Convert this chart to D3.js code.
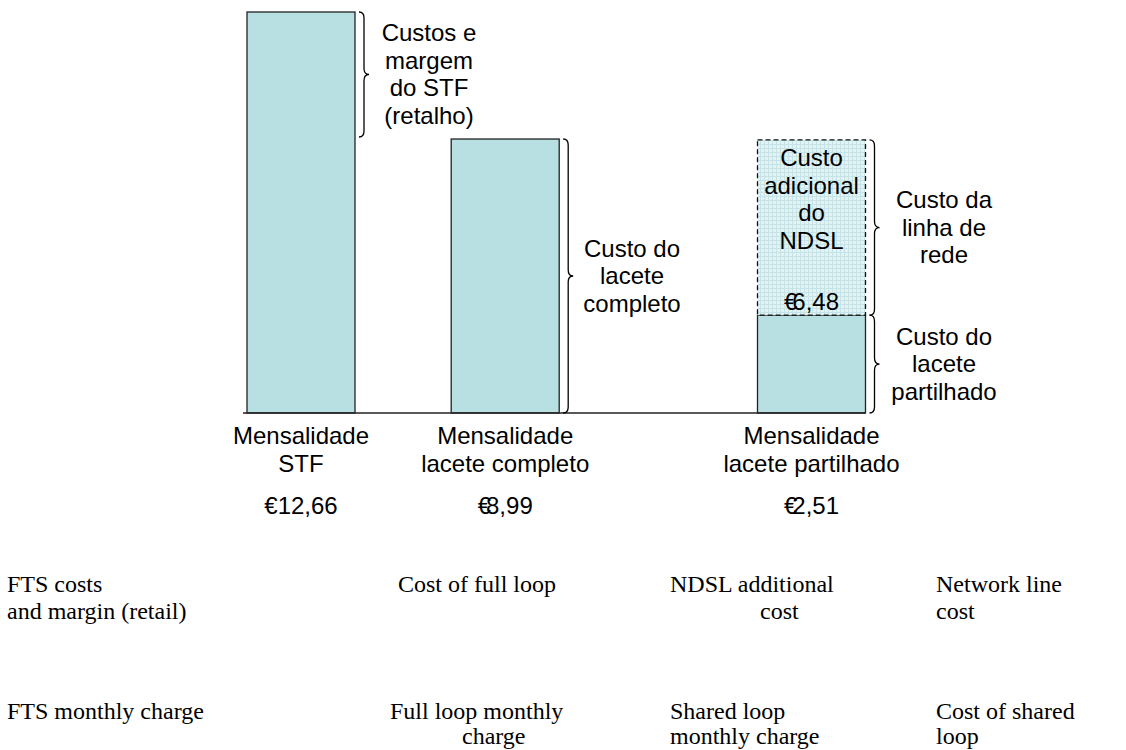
<!DOCTYPE html>
<html>
<head>
<meta charset="utf-8">
<script src="https://cdn.jsdelivr.net/npm/d3@7"></script>
<style>
    body { margin: 0; background: #fff; }
    .pt { font-family: "Liberation Sans", Arial, sans-serif; font-size: 24px; fill: #000; }
    .en { font-family: "Liberation Serif", "Times New Roman", serif; font-size: 24px; fill: #000; }
</style>
</head>
<body>
<script>
//bar labels under the axis, one entry per bar
var categoryLines = [["Mensalidade", "STF"], ["Mensalidade", "lacete completo"], ["Mensalidade", "lacete partilhado"]];
var monthlyCharges = ["€12,66", "€8,99", "€2,51"];

//heights as drawn in the picture (the chart is schematic, not to scale)
var drawnHeights = [12.66, 8.65, 3.09];
var ndslHeight = 5.53;
var ndslCharge = "€6,48";
var ndslLines = ["Custo", "adicional", "do", "NDSL"];

//brace notes: which bar each brace sits on, and its text
var braceBars = [0, 1, 2, 2];
var braceLines = [
    ["Custos e", "margem", "do STF", "(retalho)"],
    ["Custo do", "lacete", "completo"],
    ["Custo da", "linha de", "rede"],
    ["Custo do", "lacete", "partilhado"]
];

//english glosses under the chart
var glossRow1 = [["FTS costs", "and margin (retail)"], ["Cost of full loop"], ["NDSL additional", "cost"], ["Network line", "cost"]];
var glossRow2 = [["FTS monthly charge"], ["Full loop monthly", "charge"], ["Shared loop", "monthly charge"], ["Cost of shared", "loop"]];

window.onload = setChart;

function setChart(){
    var width = 1126,
        height = 750,
        baseY = 413,
        topY = 12,
        barWidth = 108,
        lineH = 27.5;

    var svg = d3.select("body")
        .append("svg")
        .attr("width", width)
        .attr("height", height);

    //bars sit on slots 0, 2 and 5 of an even grid
    var slots = ["s0", "s1", "s2", "s3", "s4", "s5"];
    var barSlot = ["s0", "s2", "s5"];
    var x = d3.scalePoint()
        .domain(slots)
        .range([301, 811.5]);

    var y = d3.scaleLinear()
        .domain([0, 12.66])
        .range([baseY, topY]);

    //grid pattern for the NDSL part
    var pat = svg.append("defs")
        .append("pattern")
        .attr("id", "grid")
        .attr("width", 4)
        .attr("height", 4)
        .attr("patternUnits", "userSpaceOnUse");
    pat.append("rect").attr("width", 4).attr("height", 4).attr("fill", "#e3f3f4");
    pat.append("path")
        .attr("d", "M0,0.5H4M0.5,0V4")
        .attr("stroke", "#c6e4e7")
        .attr("stroke-width", 1);

    svg.selectAll(".bar")
        .data(drawnHeights)
        .enter()
        .append("rect")
        .attr("class", "bar")
        .attr("x", function(d, i){ return x(barSlot[i]) - barWidth / 2; })
        .attr("y", function(d){ return y(d); })
        .attr("width", barWidth)
        .attr("height", function(d){ return baseY - y(d); })
        .style("fill", "#b8dfe1")
        .style("stroke", "#222")
        .style("stroke-width", 1.3);

    //stacked NDSL part on the last bar
    var lastX = x(barSlot[2]);
    var lastTop = drawnHeights[2] + ndslHeight;
    svg.append("rect")
        .attr("x", lastX - barWidth / 2)
        .attr("y", y(lastTop))
        .attr("width", barWidth)
        .attr("height", y(drawnHeights[2]) - y(lastTop))
        .style("fill", "url(#grid)")
        .style("stroke", "#111")
        .style("stroke-width", 1.3)
        .style("stroke-dasharray", "5,3");

    svg.append("g")
        .selectAll("text")
        .data(ndslLines)
        .enter()
        .append("text")
        .attr("class", "pt")
        .attr("text-anchor", "middle")
        .attr("x", lastX)
        .attr("y", function(d, i){ return 166 + i * lineH; })
        .text(function(d){ return d; });

    euroText(svg, lastX, 310, ndslCharge);

    //base line
    svg.append("line")
        .attr("x1", x(barSlot[0]) - barWidth / 2 - 4)
        .attr("x2", lastX + barWidth / 2)
        .attr("y1", baseY)
        .attr("y2", baseY)
        .style("stroke", "#222")
        .style("stroke-width", 1.5);

    //category labels and charges
    categoryLines.forEach(function(lines, i){
        var cx = x(barSlot[i]);
        lines.forEach(function(t, j){
            svg.append("text")
                .attr("class", "pt")
                .attr("text-anchor", "middle")
                .attr("x", cx)
                .attr("y", 444 + j * lineH)
                .text(t);
        });
        euroText(svg, cx, 514, monthlyCharges[i]);
    });

    //braces with their notes
    var spans = [
        [drawnHeights[1], drawnHeights[0]],
        [0, drawnHeights[1]],
        [drawnHeights[2], lastTop],
        [0, drawnHeights[2]]
    ];
    braceLines.forEach(function(lines, k){
        var bx = x(barSlot[braceBars[k]]) + barWidth / 2 + 4;
        var y0 = y(spans[k][1]),
            y1 = y(spans[k][0]) - (k == 0 ? 2 : 0);
        svg.append("path")
            .attr("d", bracePath(bx, y0, y1, 10))
            .style("fill", "none")
            .style("stroke", "#000")
            .style("stroke-width", 1.3);

        var mid = (y0 + y1) / 2,
            tx = k == 0 ? 429 : (k == 1 ? 632 : 944);
        lines.forEach(function(t, j){
            svg.append("text")
                .attr("class", "pt")
                .attr("text-anchor", "middle")
                .attr("x", tx)
                .attr("y", mid + 8 + (j - (lines.length - 1) / 2) * lineH)
                .text(t);
        });
    });

    //english glosses
    var glossX1 = [[7, 7], [398], [670, 760], [936, 936]];
    var glossX2 = [[7], [390, 462], [670, 670], [936, 936]];
    drawGloss(svg, glossRow1, glossX1, 592, 27);
    drawGloss(svg, glossRow2, glossX2, 719, 25);
}

//the euro sign in the original runs into the digit after it (not before a "1")
function euroText(svg, cx, ty, label){
    var t = svg.append("text")
        .attr("class", "pt")
        .attr("text-anchor", "middle")
        .attr("x", cx)
        .attr("y", ty);
    t.append("tspan").text(label.charAt(0));
    t.append("tspan")
        .attr("dx", label.charAt(1) == "1" ? 0 : -5)
        .text(label.slice(1));
}

function drawGloss(svg, rows, xs, y0, step){
    rows.forEach(function(lines, i){
        lines.forEach(function(t, j){
            svg.append("text")
                .attr("class", "en")
                .attr("x", xs[i][j])
                .attr("y", y0 + j * step)
                .text(t);
        });
    });
}

//curly brace opening to the left, tip pointing right
function bracePath(x0, y0, y1, w){
    var m = (y0 + y1) / 2,
        h = w / 2,
        r = 6;
    return "M" + x0 + "," + y0 +
        "Q" + (x0 + h) + "," + y0 + " " + (x0 + h) + "," + (y0 + r) +
        "L" + (x0 + h) + "," + (m - r) +
        "Q" + (x0 + h) + "," + m + " " + (x0 + w) + "," + m +
        "Q" + (x0 + h) + "," + m + " " + (x0 + h) + "," + (m + r) +
        "L" + (x0 + h) + "," + (y1 - r) +
        "Q" + (x0 + h) + "," + y1 + " " + x0 + "," + y1;
}
</script>
</body>
</html>
